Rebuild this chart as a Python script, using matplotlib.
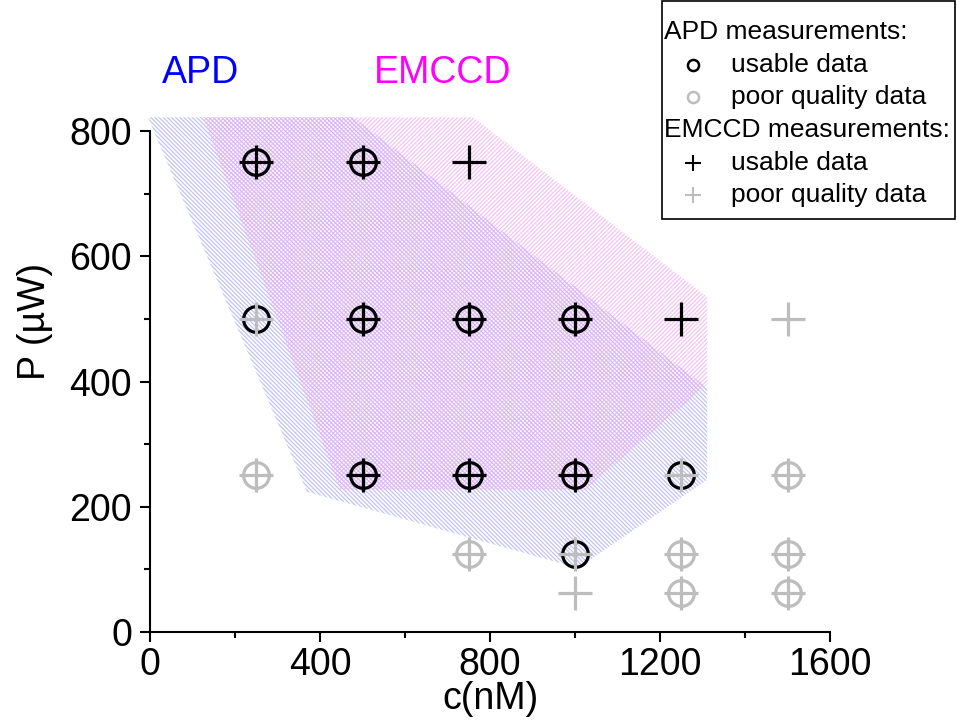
import matplotlib.pyplot as plt
from matplotlib.patches import Polygon, Rectangle

plt.rcParams['font.family'] = ['Liberation Sans', 'DejaVu Sans']
plt.rcParams['hatch.linewidth'] = 0.9

# measurement grid (c in nM, P in uW)
apd_good_c = [250, 500, 250, 500, 750, 1000, 500, 750, 1000, 1250, 1000]
apd_good_p = [750, 750, 500, 500, 500, 500, 250, 250, 250, 250, 125]
apd_poor_c = [250, 1500, 750, 1250, 1500, 1250, 1500]
apd_poor_p = [250, 250, 125, 125, 125, 62.5, 62.5]

ccd_good_c = [250, 500, 750, 500, 750, 1000, 1250, 500, 750, 1000]
ccd_good_p = [750, 750, 750, 500, 500, 500, 500, 250, 250, 250]
ccd_poor_c = [250, 1500, 250, 1250, 1500, 750, 1000, 1250, 1500, 1000, 1250, 1500]
ccd_poor_p = [500, 500, 250, 250, 250, 125, 125, 125, 125, 62.5, 62.5, 62.5]

# usable regions (hand drawn outlines)
apd_region = [(-5, 822), (478, 822), (1311, 390), (1311, 243), (1007, 102), (369, 224)]
ccd_region = [(125, 822), (760, 822), (1311, 535), (1311, 395), (1024, 227), (447, 227)]

grey = '#bdbdbd'

fig = plt.figure(figsize=(9.57, 7.23), dpi=100)
ax = fig.add_axes([150/957, 1 - 632/723, 680/957, 501/723])

ax.add_patch(Polygon(apd_region, closed=True, facecolor='none', edgecolor='#9a9af2',
                     hatch='\\\\\\\\\\\\\\\\', linewidth=0, alpha=0.6, clip_on=False))
ax.add_patch(Polygon(ccd_region, closed=True, facecolor='none', edgecolor='#f29af2',
                     hatch='////////', linewidth=0, alpha=0.6, clip_on=False))

ax.plot(apd_good_c, apd_good_p, 'o', ms=18.5, mfc='none', mec='black', mew=2.3, clip_on=False)
ax.plot(apd_poor_c, apd_poor_p, 'o', ms=18.5, mfc='none', mec=grey, mew=2.3, clip_on=False)
ax.plot(ccd_good_c, ccd_good_p, '+', ms=24, mec='black', mew=2.3, clip_on=False)
ax.plot(ccd_poor_c, ccd_poor_p, '+', ms=24, mec=grey, mew=2.3, clip_on=False)

ax.set_xlim(0, 1600)
ax.set_ylim(0, 800)
ax.set_xticks([0, 400, 800, 1200, 1600])
ax.set_yticks([0, 200, 400, 600, 800])
ax.set_xticks([200, 600, 1000, 1400], minor=True)
ax.set_yticks([100, 300, 500, 700], minor=True)
for s in ['top', 'right']:
    ax.spines[s].set_visible(False)
for s in ['left', 'bottom']:
    ax.spines[s].set_linewidth(1.5)
ax.tick_params(which='major', direction='out', length=7, width=1.5, labelsize=27)
ax.tick_params(which='minor', direction='out', length=4, width=1.5)
ax.tick_params(axis='x', pad=4)
ax.tick_params(axis='y', pad=6)

ax.set_xlabel('c(nM)', fontsize=27)
ax.xaxis.set_label_coords(0.5, -0.098)
ax.set_ylabel('P (µW)', fontsize=27)
ax.yaxis.set_label_coords(-0.142, 0.62)

ax.text(118, 877, 'APD', color='blue', fontsize=27, ha='center', va='baseline', clip_on=False)
ax.text(689, 877, 'EMCCD', color='magenta', fontsize=27, ha='center', va='baseline', clip_on=False)

# legend box drawn in pixel coordinates
lg = fig.add_axes([0, 0, 1, 1])
lg.set_xlim(0, 957)
lg.set_ylim(723, 0)
lg.axis('off')
lg.add_patch(Rectangle((662, 1), 293, 218, facecolor='white', edgecolor='black', lw=1.2))
rows = [32, 65, 97, 130, 163, 195]
fs = 19
lg.text(664, rows[0], 'APD measurements:', fontsize=fs, va='center')
lg.plot([693], [rows[1]], 'o', ms=8, mfc='none', mec='black', mew=1.8)
lg.text(731, rows[1], 'usable data', fontsize=fs, va='center')
lg.plot([693], [rows[2]], 'o', ms=8, mfc='none', mec=grey, mew=1.8)
lg.text(731, rows[2], 'poor quality data', fontsize=fs, va='center')
lg.text(664, rows[3], 'EMCCD measurements:', fontsize=fs, va='center')
lg.plot([693], [rows[4]], '+', ms=11, mec='black', mew=1.5)
lg.text(731, rows[4], 'usable data', fontsize=fs, va='center')
lg.plot([693], [rows[5]], '+', ms=11, mec=grey, mew=1.5)
lg.text(731, rows[5], 'poor quality data', fontsize=fs, va='center')

fig.savefig('out.png', dpi=100)
